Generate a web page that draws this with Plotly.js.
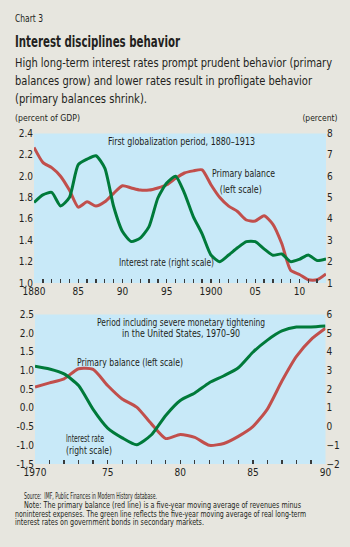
<!DOCTYPE html>
<html><head><meta charset="utf-8">
<script src="https://cdn.plot.ly/plotly-3.0.1.min.js"></script>
<style>html,body{margin:0;padding:0;background:#e7e6df;}#chart{width:350px;height:547px;}</style>
</head><body><div id="chart"></div>
<script>
// ---- Data ----
const years1 = [1880,1881,1882,1883,1884,1885,1886,1887,1888,1889,1890,1891,1892,1893,1894,1895,1896,1897,1898,1899,1900,1901,1902,1903,1904,1905,1906,1907,1908,1909,1910,1911,1912,1913];
const primaryBalance1 = [2.27,2.13,2.08,2.00,1.87,1.71,1.76,1.72,1.76,1.84,1.91,1.89,1.87,1.87,1.89,1.92,1.98,2.03,2.05,2.06,1.92,1.80,1.72,1.67,1.59,1.58,1.63,1.55,1.37,1.12,1.08,1.03,1.03,1.085];
const interestRate1 = [4.77,5.13,5.24,4.61,5.0,6.54,6.8,6.96,6.38,4.58,3.41,2.94,3.1,3.64,4.98,5.68,6.0,5.21,4.11,3.3,2.31,2.0,2.31,2.65,2.94,2.94,2.6,2.3,2.36,2.0,2.11,2.31,2.05,2.13];

const years2 = [1970,1971,1972,1973,1974,1975,1976,1977,1978,1979,1980,1981,1982,1983,1984,1985,1986,1987,1988,1989,1990];
const primaryBalance2 = [0.56,0.67,0.78,1.05,1.03,0.6,0.24,0.02,-0.42,-0.82,-0.71,-0.79,-1.0,-0.95,-0.76,-0.5,-0.03,0.72,1.38,1.83,2.13];
const interestRate2 = [3.23,3.08,2.82,2.2,0.92,-0.08,-0.6,-0.97,-0.45,0.6,1.4,1.8,2.35,2.72,3.15,3.98,4.63,5.12,5.33,5.33,5.38];

const xTicks1 = [1880,1885,1890,1895,1900,1905,1910];
const xTickText1 = ['1880','85','90','95','1900','05','10'];
const xTicks2 = [1970,1975,1980,1985,1990];
const xTickText2 = ['1970','75','80','85','90'];
const yLeft1 = [1.0,1.2,1.4,1.6,1.8,2.0,2.2,2.4];
const yRight1 = [1,2,3,4,5,6,7,8];
const yLeft2 = [-1.5,-1.0,-0.5,0.0,0.5,1.0,1.5,2.0,2.5];
const yRight2 = [-2,-1,0,1,2,3,4,5,6];

// ---- Layout helpers ----
const W = 350, H = 547;
const px = x => x / W, py = y => 1 - y / H;
const FONT = '"Liberation Sans Narrow", "DejaVu Sans Condensed", "Arial Narrow", sans-serif';
const TXT = '#231f20';
const RED = '#c14f4c', GREEN = '#007a3a';
const TICKC = '#3a3a3a';

const lineStyle = c => ({color: c, width: 3, shape: 'spline', smoothing: 0.6});
const traces = [
  {x: years1, y: primaryBalance1, xaxis: 'x', yaxis: 'y', mode: 'lines', line: lineStyle(RED), hoverinfo: 'skip'},
  {x: years1, y: interestRate1, xaxis: 'x', yaxis: 'y2', mode: 'lines', line: lineStyle(GREEN), hoverinfo: 'skip'},
  {x: years2, y: primaryBalance2, xaxis: 'x2', yaxis: 'y5', mode: 'lines', line: lineStyle(RED), hoverinfo: 'skip'},
  {x: years2, y: interestRate2, xaxis: 'x2', yaxis: 'y6', mode: 'lines', line: lineStyle(GREEN), hoverinfo: 'skip'}
];

const tickFont = {family: FONT, size: 10, color: TXT};
const base = {showgrid: false, zeroline: false, showline: false, fixedrange: true};
const inner = arr => arr.slice(1, -1);
const fmt1 = arr => arr.map(v => v.toFixed(1));

const dom1x = [px(34), px(326)], dom1y = [py(283), py(133.5)];
const dom2x = [px(35), px(325.5)], dom2y = [py(464), py(314.5)];

const layout = {
  width: W, height: H,
  margin: {l: 0, r: 0, t: 0, b: 0},
  paper_bgcolor: '#e7e6df', plot_bgcolor: '#c8e9f8',
  showlegend: false, hovermode: false,
  font: {family: FONT, color: TXT},
  xaxis: Object.assign({}, base, {domain: dom1x, anchor: 'y', range: [1880, 1913],
    tickvals: xTicks1, ticktext: xTickText1, ticks: 'inside', ticklen: 4, tickcolor: TICKC, tickwidth: 1.3,
    minor: {dtick: 1, tick0: 1880, ticks: 'inside', ticklen: 4, tickcolor: TICKC, tickwidth: 1.3},
    ticklabelstandoff: 1, tickfont: tickFont}),
  yaxis: Object.assign({}, base, {domain: dom1y, anchor: 'x', range: [1.0, 2.4],
    tickvals: yLeft1, ticktext: fmt1(yLeft1), ticks: '', tickfont: tickFont}),
  yaxis2: Object.assign({}, base, {overlaying: 'y', side: 'right', anchor: 'x', range: [1, 8],
    tickvals: yRight1, ticks: '', tickfont: tickFont}),
  yaxis3: Object.assign({}, base, {overlaying: 'y', anchor: 'x', range: [1.0, 2.4],
    tickvals: inner(yLeft1), ticks: 'inside', ticklen: 7, tickwidth: 1.5, tickcolor: TICKC, showticklabels: false}),
  yaxis4: Object.assign({}, base, {overlaying: 'y', side: 'right', anchor: 'x', range: [1, 8],
    tickvals: inner(yRight1), ticks: 'inside', ticklen: 7, tickwidth: 1.5, tickcolor: TICKC, showticklabels: false}),

  xaxis2: Object.assign({}, base, {domain: dom2x, anchor: 'y5', range: [1970, 1990],
    tickvals: xTicks2, ticktext: xTickText2, ticks: 'inside', ticklen: 4, tickcolor: TICKC, tickwidth: 1.3,
    minor: {dtick: 1, tick0: 1970, ticks: 'inside', ticklen: 4, tickcolor: TICKC, tickwidth: 1.3},
    ticklabelstandoff: 1, tickfont: tickFont}),
  yaxis5: Object.assign({}, base, {domain: dom2y, anchor: 'x2', range: [-1.5, 2.5],
    tickvals: yLeft2, ticktext: fmt1(yLeft2), ticks: '', tickfont: tickFont}),
  yaxis6: Object.assign({}, base, {overlaying: 'y5', side: 'right', anchor: 'x2', range: [-2, 6],
    tickvals: yRight2, ticks: '', tickfont: tickFont}),
  yaxis7: Object.assign({}, base, {overlaying: 'y5', anchor: 'x2', range: [-1.5, 2.5],
    tickvals: inner(yLeft2), ticks: 'inside', ticklen: 7, tickwidth: 1.5, tickcolor: TICKC, showticklabels: false}),
  yaxis8: Object.assign({}, base, {overlaying: 'y5', side: 'right', anchor: 'x2', range: [-2, 6],
    tickvals: inner(yRight2), ticks: 'inside', ticklen: 7, tickwidth: 1.5, tickcolor: TICKC, showticklabels: false}),
  annotations: []
};

// target rendered widths (px) to imitate the condensed typeface of the original
const annWidths = [];
function note(text, x, y, size, anchor, width) {
  anchor = anchor || 'left';
  layout.annotations.push({
    text: text, xref: 'paper', yref: 'paper', x: px(x), y: py(y),
    xanchor: anchor, yanchor: 'middle', align: anchor, showarrow: false,
    font: {family: FONT, size: size, color: TXT}, borderpad: 0
  });
  annWidths.push(width || null);
}

note('Chart 3', 14, 18, 10, 'left', 28);
note('<b>Interest disciplines behavior</b>', 14, 41, 16, 'left', 165);
note('High long-term interest rates prompt prudent behavior (primary', 14, 63, 11.5, 'left', 317);
note('balances grow) and lower rates result in profligate behavior', 14, 81, 11.5, 'left', 297);
note('(primary balances shrink).', 14, 99, 11.5, 'left', 132);
note('(percent of GDP)', 14, 117, 9.5, 'left', 65);
note('(percent)', 338, 117, 9.5, 'right', 35);

note('First globalization period, 1880–1913', 107, 142, 10, 'left', 147);
note('Primary balance', 243.5, 174, 10, 'center', 63);
note('(left scale)', 241, 189.5, 10, 'center', 42);
note('Interest rate (right scale)', 118, 263, 10, 'left', 95);

note('Period including severe monetary tightening', 181, 322, 10, 'center', 168);
note('in the United States, 1970–90', 181, 333.5, 10, 'center', 118);
note('Primary balance (left scale)', 76, 362.5, 10, 'left', 106);
note('Interest rate', 65, 438, 10, 'left', 38);
note('(right scale)', 65, 450, 10, 'left', 46);

note('Source:  IMF, Public Finances in Modern History database.', 23, 496, 8, 'left', 133);
note('Note: The primary balance (red line) is a five-year moving average of revenues minus', 23, 505, 8, 'left', 277);
note('noninterest expenses. The green line reflects the five-year moving average of real long-term', 14, 514, 8, 'left', 291);
note('interest rates on government bonds in secondary markets.', 14, 522.5, 8, 'left', 189);

Plotly.newPlot('chart', traces, layout, {staticPlot: true, displayModeBar: false}).then(() => {
  annWidths.forEach((w, i) => {
    if (!w) return;
    const g = document.querySelector('g.annotation[data-index="' + i + '"]');
    if (!g) return;
    const t = g.querySelector('text.annotation-text');
    if (!t) return;
    t.setAttribute('textLength', w);
    t.setAttribute('lengthAdjust', 'spacingAndGlyphs');
    // keep the annotation's background box in step with the condensed text
    const bb = t.getBBox();
    g.querySelectorAll('rect').forEach(r => {
      r.setAttribute('x', bb.x);
      r.setAttribute('width', bb.width);
    });
  });
});
</script>
</body></html>
